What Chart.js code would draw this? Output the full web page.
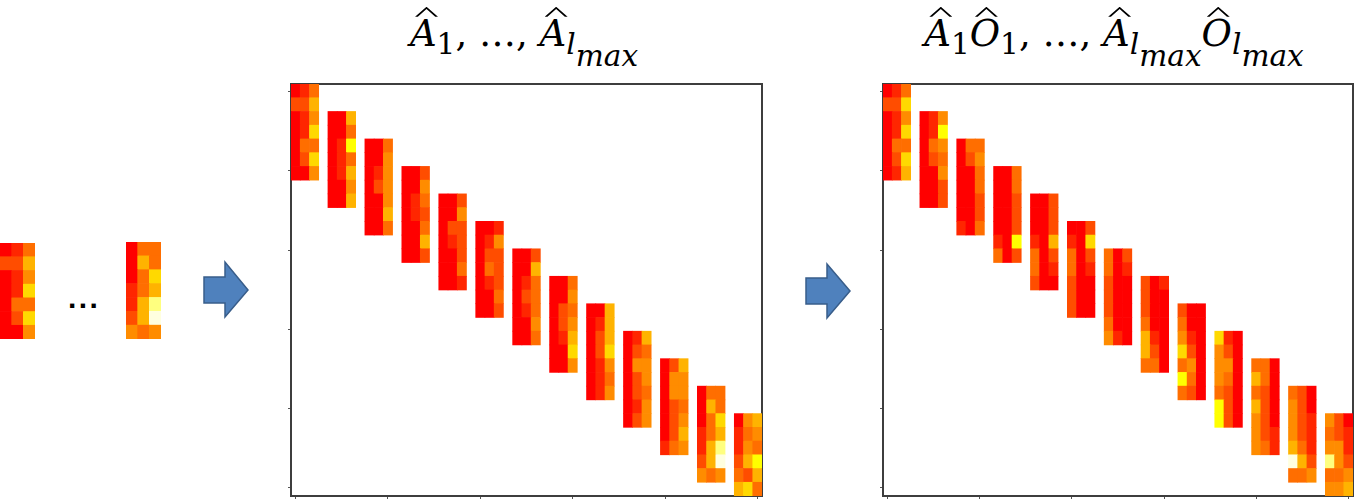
<!DOCTYPE html>
<html><head><meta charset="utf-8">
<script src="https://cdn.jsdelivr.net/npm/chart.js@4.4.1/dist/chart.umd.min.js"></script>
<style>
html,body{margin:0;padding:0;background:#fff;width:1359px;height:502px;overflow:hidden}
body{position:relative}
canvas{position:absolute;display:block}
.title{position:absolute;font-family:"DejaVu Serif",serif;font-size:37px;line-height:37px;white-space:nowrap;color:#000;text-align:center}
.title i{font-style:italic}
.hat{position:relative}
.hat::before{content:"";position:absolute;left:0.14em;top:-0.14em;width:0.62em;height:0.27em;background:#000;
  clip-path:polygon(0 100%,50% 0,100% 100%,88% 100%,50% 22%,12% 100%)}
.s1{font-size:0.8em;position:relative;top:0.28em;line-height:0}
.s2{font-size:0.8em;position:relative;top:0.68em;line-height:0}
.dots{position:absolute;left:68px;top:283px;font-family:"Liberation Sans",sans-serif;font-weight:bold;font-size:30px;line-height:30px;letter-spacing:2.4px;color:#000}
svg{position:absolute;left:0;top:0}
</style></head><body>

<svg width="1359" height="502">
  <polygon points="204,277 225,277 225,262 248,290 225,317 225,303 204,303" fill="#4f81bd" stroke="#385d8a" stroke-width="1.5"/>
  <polygon points="806,278 827,278 827,264 850,291 827,318 827,304 806,304" fill="#4f81bd" stroke="#385d8a" stroke-width="1.5"/>
</svg>

<canvas id="single1" width="35" height="96" style="left:0px;top:243px"></canvas>
<div class="dots">...</div>
<canvas id="single2" width="35" height="97" style="left:126px;top:242px"></canvas>

<div class="title" style="left:324px;width:400px;top:15px"><i class="hat">A</i><span class="s1">1</span>, …, <i class="hat">A</i><span class="s1"><i>l</i></span><span class="s2"><i>max</i></span></div>
<div class="title" style="left:864px;width:500px;top:15px"><i class="hat">A</i><span class="s1">1</span><i class="hat">O</i><span class="s1">1</span>, …, <i class="hat">A</i><span class="s1"><i>l</i></span><span class="s2"><i>max</i></span><i class="hat">O</i><span class="s1"><i>l</i></span><span class="s2"><i>max</i></span></div>

<canvas id="panel1" width="483" height="424" style="left:285px;top:78px"></canvas>
<canvas id="panel2" width="482" height="424" style="left:877px;top:78px"></canvas>

<script>
// ---- data: heat values (0 = red, 1 = yellow, >1 towards white), 7 rows x 3 columns per block ----
const panel1Blocks = [
  [[0,.15,.43],[.3,.3,.7],[0,.15,.55],[0,.15,.85],[0,.43,.43],[0,.3,.85],[0,0,.55]],
  [[0,0,.7],[0,0,.43],[0,.15,1],[0,.15,.43],[0,.15,.7],[0,0,.55],[0,0,.7]],
  [[0,0,.43],[0,0,.55],[0,.15,.55],[0,.3,.55],[0,0,.55],[0,0,.7],[0,0,.43]],
  [[0,0,.3],[0,0,.55],[0,.15,.43],[0,.15,.3],[0,0,.43],[0,0,.7],[0,0,.3]],
  [[0,0,.3],[0,0,.55],[0,.3,.3],[0,.15,.3],[0,0,.3],[0,0,.43],[0,0,.15]],
  [[0,0,.15],[0,.15,.55],[0,.3,.3],[0,.43,.3],[0,.15,.3],[0,0,.43],[0,0,.3]],
  [[0,0,.3],[0,0,.7],[0,.15,.43],[0,.3,.43],[0,.15,.43],[0,0,.55],[0,0,.43]],
  [[0,0,.43],[0,0,.55],[0,.3,.43],[0,.3,.55],[0,.15,.7],[0,0,.85],[0,0,.55]],
  [[0,0,.7],[0,.15,.7],[0,.3,.7],[0,.3,.85],[0,.15,.55],[0,.15,.43],[0,.15,.55]],
  [[0,.15,.7],[0,.3,.43],[0,.55,.55],[0,.3,.55],[0,.3,.43],[0,.15,.55],[0,.3,.55]],
  [[0,.3,.7],[0,.55,.55],[0,.55,.55],[0,.3,.43],[0,.3,.55],[0,.3,.7],[.15,.43,.55]],
  [[0,.43,.43],[0,.7,.43],[0,.43,.85],[.15,.43,.7],[.15,.7,1.2],[.3,.7,1.35],[.55,.43,.55]],
  [[0,.55,.7],[.15,.43,.55],[.15,.55,.43],[.3,.7,1],[.43,.3,.7],[.7,.85,.43]]
];
const panel2Blocks = [
  [[0,.15,.43],[.3,.3,.85],[0,.15,.55],[0,.15,.85],[0,.43,.43],[0,.3,.85],[0,.15,.7]],
  [[0,.15,.55],[0,.15,1],[0,.43,.55],[0,.3,.43],[0,0,.55],[0,0,.3],[0,0,.3]],
  [[0,.43,.43],[0,.3,.55],[0,0,.43],[0,0,.43],[0,0,.3],[0,0,.3],[.15,0,.43]],
  [[0,0,.43],[0,0,.43],[0,0,.3],[0,0,.3],[0,0,.3],[.15,0,1],[.43,0,.3]],
  [[0,0,.3],[0,0,.3],[0,0,.3],[.15,0,.7],[.43,0,.3],[.43,0,.15],[.3,0,0]],
  [[0,0,.3],[.15,0,.85],[.43,0,.3],[.43,0,.15],[.3,0,0],[.3,0,0],[.3,0,0]],
  [[.43,0,.3],[.43,0,.15],[.3,0,0],[.3,0,0],[.3,0,0],[.43,0,0],[.55,.15,0]],
  [[.3,0,.15],[.3,0,0],[.3,0,0],[.43,0,0],[.7,.15,0],[.7,.3,0],[.43,.43,0]],
  [[.3,0,0],[.43,0,0],[.55,.15,0],[.85,.3,0],[.43,.55,0],[1,.43,0],[.43,.3,0]],
  [[.85,.15,0],[.55,.3,0],[.55,.55,0],[.55,.43,0],[.43,.3,0],[1,.3,0],[1,.3,0]],
  [[.43,.43,0],[.7,.43,0],[.43,.3,0],[.7,.3,0],[.55,.3,0],[.55,.3,.15],[.55,.43,.15]],
  [[.43,.3,0],[.55,.3,0],[.55,.3,.15],[.55,.3,.15],[.7,.43,.15],[1.35,.7,.3],[.43,.43,.55]],
  [[.55,.3,0],[.43,.3,.15],[.55,.55,.15],[1.2,.55,.3],[.43,.43,.55],[.55,.55,.7]]
];
// block origins in the matrix (column, row)
const blockCol = [0,4,8,12,16,20,24,28,32,36,40,44,48];
const blockRow = [0,2,4,6,8,10,12,14,16,18,20,22,24];
const matrixCols = 51, matrixRows = 30;
const xTickValues = [0.5,10.5,20.5,30.5,40.5,50.5];
const yTickValues = [0.57,6.33,12.1,17.9,23.6,29.4];
// standalone blocks shown at left: first and second-to-last block
const leftBlocks = [0, 11];

function heat(v){
  const g = Math.round(255*Math.min(1,v));
  const b = Math.round(255*Math.max(0,Math.min(1,(v-1)/0.4)));
  return 'rgb(255,'+g+','+b+')';
}
function cellsOf(blocks, cols, rows){
  const pts=[];
  blocks.forEach((blk,k)=>{
    blk.forEach((row,i)=>{
      row.forEach((v,j)=>{
        pts.push({x: cols[k]+j+0.5, y:[rows[k]+i, rows[k]+i+1], v:v});
      });
    });
  });
  return pts;
}
function dataset(pts){
  return {data:pts, backgroundColor:c=>heat(c.raw.v), borderWidth:0,
          barPercentage:1, categoryPercentage:1, grouped:false, clip:0};
}
const FRAME='#3d3d3d';
function panel(id, blocks){
  return new Chart(document.getElementById(id), {
    type:'bar',
    data:{datasets:[dataset(cellsOf(blocks, blockCol, blockRow))]},
    options:{
      responsive:false, animation:false, devicePixelRatio:1,
      layout:{padding:0},
      plugins:{legend:{display:false}, tooltip:{enabled:false}},
      scales:{
        x:{type:'linear', position:'bottom', min:0, max:matrixCols, offset:false,
           ticks:{display:false}, grid:{offset:false, drawOnChartArea:false, tickLength:3, color:'#555', lineWidth:1},
           border:{color:FRAME, width:2},
           afterBuildTicks:s=>{s.ticks=xTickValues.map(v=>({value:v}));},
           afterFit:s=>{s.height=6;}},
        y:{type:'linear', position:'left', min:0, max:matrixRows, reverse:true, offset:false,
           ticks:{display:false}, grid:{drawOnChartArea:false, tickLength:3, color:'#555', lineWidth:1},
           border:{color:FRAME, width:2},
           afterBuildTicks:s=>{s.ticks=yTickValues.map(v=>({value:v}));},
           afterFit:s=>{s.width=6;}},
        x2:{type:'linear', position:'top', min:0, max:matrixCols, offset:false,
           ticks:{display:false}, grid:{display:false}, border:{color:FRAME, width:2},
           afterFit:s=>{s.height=6;}},
        y2:{type:'linear', position:'right', min:0, max:matrixRows, reverse:true, offset:false,
           ticks:{display:false}, grid:{display:false}, border:{color:FRAME, width:2},
           afterFit:s=>{s.width=6;}}
      }
    }
  });
}
function single(id, block){
  return new Chart(document.getElementById(id), {
    type:'bar',
    data:{datasets:[dataset(cellsOf([block],[0],[0]))]},
    options:{
      responsive:false, animation:false, devicePixelRatio:1,
      layout:{padding:0},
      plugins:{legend:{display:false}, tooltip:{enabled:false}},
      scales:{
        x:{type:'linear', min:0, max:3, offset:false, display:false},
        y:{type:'linear', min:0, max:7, reverse:true, display:false}
      }
    }
  });
}
panel('panel1', panel1Blocks);
panel('panel2', panel2Blocks);
single('single1', panel1Blocks[leftBlocks[0]]);
single('single2', panel1Blocks[leftBlocks[1]]);
</script>
</body></html>
